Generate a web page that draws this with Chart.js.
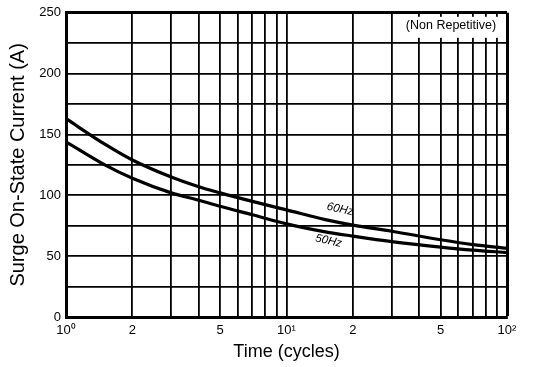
<!DOCTYPE html>
<html>
<head>
<meta charset="utf-8">
<script src="https://cdn.jsdelivr.net/npm/chart.js@4/dist/chart.umd.min.js"></script>
<style>
html,body{margin:0;padding:0;background:#fff;}
#wrap{width:554px;height:367px;}
</style>
</head>
<body>
<div id="wrap"><canvas id="c" width="554" height="367"></canvas></div>
<script>
// ---- data ----
const cycles = [1, 1.5, 2, 3, 4, 5, 7, 10, 15, 20, 30, 50, 70, 100];
const surge60Hz = [163, 142, 129, 115, 107, 102, 95, 88, 80, 75.5, 70.5, 63.5, 59.5, 56.5];
const surge50Hz = [144, 125, 114, 102, 96, 91, 84, 76.5, 70, 66.5, 62, 57.5, 55, 53];
const xGridValues = [1,2,3,4,5,6,7,8,9,10,20,30,40,50,60,70,80,90,100];
const xTickLabels = {1:'10\u2070', 2:'2', 5:'5', 10:'10\u00b9', 20:'2', 50:'5', 100:'10\u00b2'};
const yTickLabels = [0, 50, 100, 150, 200, 250];
const seriesNames = ['60Hz', '50Hz'];
const noteText = '(Non Repetitive)';

const FONT = "'Liberation Sans', Arial, sans-serif";
const pts = (xs, ys) => xs.map((x, i) => ({x: x, y: ys[i]}));

const overlay = {
  id: 'overlay',
  beforeDatasetsDraw(chart) {
    const ctx = chart.ctx, a = chart.chartArea;
    ctx.save();
    ctx.fillStyle = '#fff';
    ctx.fillRect(a.right - 114, a.top + 4, 112, 21);
    ctx.fillStyle = '#000';
    ctx.font = "12.5px " + FONT;
    ctx.textAlign = 'center';
    ctx.textBaseline = 'middle';
    ctx.fillText(noteText, a.right - 56, a.top + 13);
    ctx.restore();
  },
  afterDatasetsDraw(chart) {
    const ctx = chart.ctx;
    const xs = chart.scales.x, ys = chart.scales.y;
    const labels = [
      {t: seriesNames[0], x: 17.5, y: 88.5},
      {t: seriesNames[1], x: 15.5, y: 62.5}
    ];
    ctx.save();
    ctx.fillStyle = '#000';
    ctx.font = "italic 11.5px " + FONT;
    ctx.textAlign = 'center';
    ctx.textBaseline = 'middle';
    labels.forEach(l => {
      ctx.save();
      ctx.translate(xs.getPixelForValue(l.x), ys.getPixelForValue(l.y));
      ctx.rotate(0.22);
      ctx.fillText(l.t, 0, 0);
      ctx.restore();
    });
    ctx.restore();
  }
};

new Chart(document.getElementById('c'), {
  type: 'line',
  data: {
    datasets: [
      {label: seriesNames[0], data: pts(cycles, surge60Hz), borderColor: '#000', borderWidth: 3.2, pointRadius: 0, cubicInterpolationMode: 'monotone', fill: false},
      {label: seriesNames[1], data: pts(cycles, surge50Hz), borderColor: '#000', borderWidth: 3.2, pointRadius: 0, cubicInterpolationMode: 'monotone', fill: false}
    ]
  },
  options: {
    responsive: false,
    animation: false,
    events: [],
    layout: {padding: {top: 10, right: 47, left: 0, bottom: 0}},
    plugins: {legend: {display: false}, tooltip: {enabled: false}, title: {display: false}},
    scales: {
      x: {
        type: 'logarithmic',
        min: 1, max: 100,
        afterBuildTicks(scale) { scale.ticks = xGridValues.map(v => ({value: v})); },
        afterFit(scale) { scale.height = 50; },
        ticks: {
          autoSkip: false, maxRotation: 0, color: '#000', padding: 6,
          font: {family: FONT, size: 13},
          callback: (v) => xTickLabels[v] !== undefined ? xTickLabels[v] : ''
        },
        grid: {
          color: '#000', drawTicks: false,
          lineWidth: (c) => (c.tick && c.tick.value === 100) ? 3 : 1.8
        },
        border: {display: true, color: '#000', width: 3},
        title: {display: true, text: 'Time (cycles)', color: '#000', font: {family: FONT, size: 18}, padding: {top: 0, bottom: 4}}
      },
      y: {
        type: 'linear',
        min: 0, max: 250,
        afterBuildTicks(scale) {
          const t = []; for (let v = 0; v <= 250; v += 25) t.push({value: v}); scale.ticks = t;
        },
        afterFit(scale) { scale.width = 66; },
        ticks: {
          color: '#000', padding: 5,
          font: {family: FONT, size: 13},
          callback: (v) => yTickLabels.includes(v) ? String(v) : ''
        },
        grid: {
          color: '#000', drawTicks: false,
          lineWidth: (c) => (c.tick && c.tick.value === 250) ? 3 : 1.8
        },
        border: {display: true, color: '#000', width: 3},
        title: {display: true, text: 'Surge On-State Current (A)', color: '#000', font: {family: FONT, size: 20}, padding: {top: 6, bottom: 0}}
      }
    }
  },
  plugins: [overlay]
});
</script>
</body>
</html>
